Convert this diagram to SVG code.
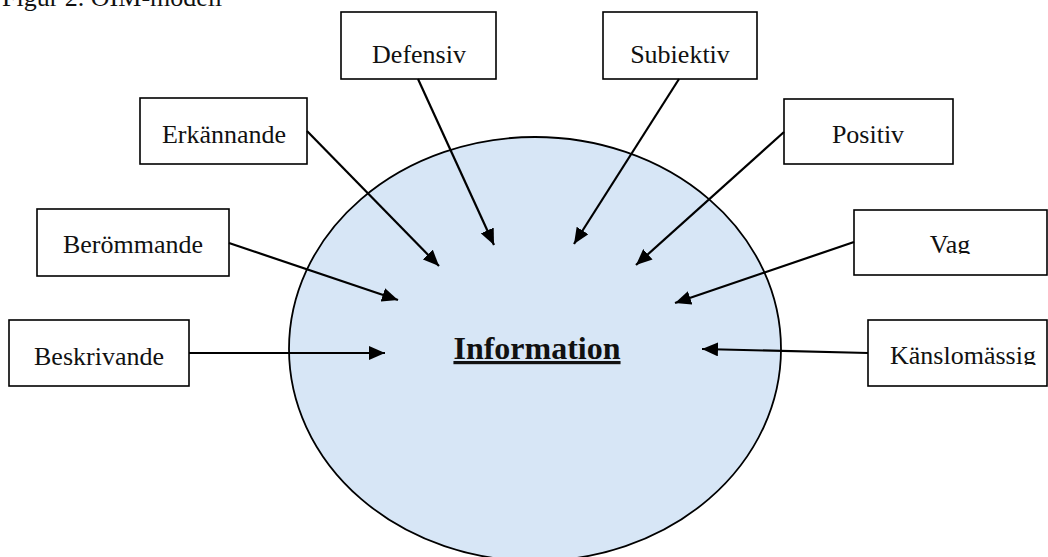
<svg xmlns="http://www.w3.org/2000/svg" width="1048" height="557" viewBox="0 0 1048 557">
<style>
.box{fill:#fff;stroke:#000;stroke-width:1.6}
.lbl{font-family:"Liberation Serif","Times New Roman",serif;font-size:26px;fill:#111;text-anchor:middle}
.conn{stroke:#000;stroke-width:2.2;fill:none;marker-end:url(#ah)}
</style>
<defs>
<marker id="ah" markerUnits="userSpaceOnUse" markerWidth="18" markerHeight="14" refX="16" refY="7" orient="auto">
<path d="M0,0 L16,7 L0,14 Z" fill="#000"/>
</marker>
<clipPath id="cSub"><rect x="603" y="12" width="154" height="52"/></clipPath>
<clipPath id="cVag"><rect x="854" y="210" width="193" height="44"/></clipPath>
<clipPath id="cKan"><rect x="868" y="320" width="179" height="45"/></clipPath>
</defs>
<rect width="1048" height="557" fill="#fff"/>
<text x="2" y="6" font-family="Liberation Serif, serif" font-size="26" fill="#111">Figur 2. OIM-modell</text>
<g id="information">
<ellipse cx="535" cy="349" rx="246" ry="212" fill="#D7E6F6" stroke="#000" stroke-width="1.8"/>
<text x="537" y="359" font-family="Liberation Serif, serif" font-size="32" font-weight="bold" text-anchor="middle" text-decoration="underline" fill="#111">Information</text>
</g>
<g id="defensiv"><rect class="box" x="341" y="12" width="155" height="67"/><text class="lbl" x="419" y="63">Defensiv</text></g>
<g id="subiektiv"><rect class="box" x="603" y="12" width="154" height="67"/><text class="lbl" x="680" y="63" clip-path="url(#cSub)">Subiektiv</text></g>
<g id="erkannande"><rect class="box" x="140" y="98" width="167" height="66"/><text class="lbl" x="224" y="143">Erkännande</text></g>
<g id="positiv"><rect class="box" x="784" y="99" width="169" height="65"/><text class="lbl" x="868" y="143">Positiv</text></g>
<g id="berommande"><rect class="box" x="37" y="209" width="192" height="67"/><text class="lbl" x="133" y="253">Berömmande</text></g>
<g id="vag"><rect class="box" x="854" y="210" width="193" height="65"/><text class="lbl" x="950" y="253" clip-path="url(#cVag)">Vag</text></g>
<g id="beskrivande"><rect class="box" x="9" y="320" width="180" height="66"/><text class="lbl" x="99" y="365">Beskrivande</text></g>
<g id="kanslomassig"><rect class="box" x="868" y="320" width="179" height="66"/><text class="lbl" x="963" y="364" clip-path="url(#cKan)">Känslomässig</text></g>
<g id="connectors">
<line class="conn" x1="189" y1="353" x2="385" y2="353"/>
<line class="conn" x1="229" y1="243" x2="398" y2="300"/>
<line class="conn" x1="307" y1="131" x2="439" y2="266"/>
<line class="conn" x1="418" y1="79" x2="494" y2="245"/>
<line class="conn" x1="679" y1="79" x2="574" y2="244"/>
<line class="conn" x1="784" y1="132" x2="636" y2="265"/>
<line class="conn" x1="854" y1="242" x2="675" y2="303"/>
<line class="conn" x1="868" y1="353" x2="702" y2="349"/>
</g>
</svg>
